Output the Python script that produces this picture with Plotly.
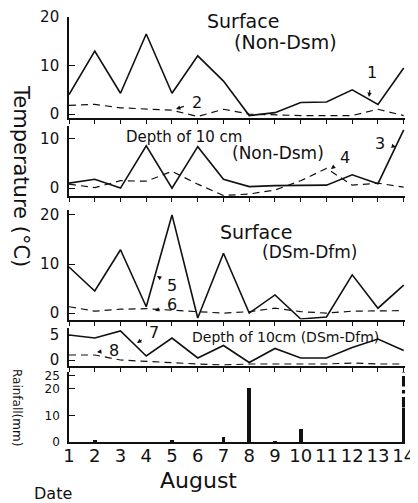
import plotly.graph_objects as go

# ---------------- data ----------------
days = list(range(1, 15))

# Surface, Non-Dsm
surf_non_solid = [4, 13, 4.3, 16.5, 4.3, 12, 6.8, -0.3, 0.3, 2.4, 2.5, 5, 2, 9.5]   # 1
surf_non_dash = [1.8, 2, 1.3, 1, 0.8, -0.5, 1, 0, -0.2, -0.3, -0.3, -0.3, 1, -0.3]  # 2

# Depth of 10 cm, Non-Dsm
d10_non_solid = [1, 1.8, 0, 8.6, 0, 8.4, 1.8, 0.3, 0.5, 0.6, 0.6, 2.7, 0.9, 11.8]  # 3
d10_non_dash = [0.8, 0.1, 1.5, 1.4, 3.4, 0.8, -1.5, -1.2, -0.4, 1.5, 4, 0.6, 1, 0.2]  # 4

# Surface, DSm-Dfm
surf_dsm_solid = [9.4, 4.5, 12.9, 1.3, 20, -1, 12.2, 0, 3.7, -1.2, -0.8, 7.8, 1, 5.7]  # 5
surf_dsm_dash = [1.3, 0.4, 0.8, 0.9, 0.6, 0.3, 0, 0.3, 1, 0.3, 0, 0.4, 0.5, 0.5]      # 6

# Depth of 10 cm, DSm-Dfm
d10_dsm_solid = [5, 4.4, 5.8, 0.8, 4.4, 0.4, 2.9, -0.5, 2.3, 0.4, 0.4, 2.5, 4.2, 1.9]  # 7
d10_dsm_dash = [1, 1, 0, -0.3, -0.5, -0.8, -1, -0.8, -0.8, -0.8, -0.8, -0.6, -0.8, -0.8]  # 8

# Rainfall (mm); day 14 runs off the scale
rain_mm = [0, 0.6, 0, 0, 0.8, 0, 1.8, 20.5, 0.3, 5, 0, 0, 0, 13]
rain_offscale_day = 14

temp_ticks = [[0, 10, 20], [0, 10], [0, 10, 20], [0, 5]]
rain_ticks = [0, 10, 20, 25]

# ---------------- layout helpers ----------------
PAGE_W, PAGE_H = 418, 503
OX, OY = 8, 8                      # default page (body) margin of the html
W, H = PAGE_W - OX, PAGE_H - OY
# plot area in page pixels
P_LEFT, P_RIGHT, P_TOP, P_BOTTOM = 69, 405, 12, 442
ML, MR = P_LEFT - OX, W - (P_RIGHT - OX)
MT, MB = P_TOP - OY, H - (P_BOTTOM - OY)
PW, PH = P_RIGHT - P_LEFT, P_BOTTOM - P_TOP


def px(x):
    return (x - P_LEFT) / PW


def py(y):
    return (P_BOTTOM - y) / PH


FONT = "DejaVu Sans"
INK = "#111111"

panels = [
    dict(dom=(118, 17), rng=[-0.8, 20]),
    dict(dom=(196, 126), rng=[-1.6, 12.6]),
    dict(dom=(319.5, 210), rng=[-1.3, 21]),
    dict(dom=(365.5, 327.5), rng=[-1.1, 6.5]),
    dict(dom=(442, 372), rng=[0, 26.4]),
]

fig = go.Figure()

series = [
    (surf_non_solid, surf_non_dash),
    (d10_non_solid, d10_non_dash),
    (surf_dsm_solid, surf_dsm_dash),
    (d10_dsm_solid, d10_dsm_dash),
]

for k, (solid, dash) in enumerate(series, start=1):
    xa = "x" if k == 1 else f"x{k}"
    ya = "y" if k == 1 else f"y{k}"
    fig.add_trace(go.Scatter(x=days, y=dash, mode="lines", xaxis=xa, yaxis=ya,
                             line=dict(color=INK, width=1.2, dash="7px,5px"),
                             showlegend=False, hoverinfo="skip"))
    fig.add_trace(go.Scatter(x=days, y=solid, mode="lines", xaxis=xa, yaxis=ya,
                             line=dict(color=INK, width=1.6),
                             showlegend=False, hoverinfo="skip"))

# rainfall
fig.add_trace(go.Bar(x=days, y=rain_mm, xaxis="x5", yaxis="y5", width=0.15,
                     marker=dict(color=INK, line=dict(width=0)),
                     showlegend=False, hoverinfo="skip"))
ri = days.index(rain_offscale_day)
fig.add_trace(go.Scatter(x=[days[ri], days[ri]], y=[rain_mm[ri], panels[4]["rng"][1]],
                         mode="lines", xaxis="x5", yaxis="y5",
                         line=dict(color=INK, width=3.5, dash="dashdot"),
                         showlegend=False, hoverinfo="skip"))

layout = dict(
    template="none",
    width=W, height=H, autosize=False,
    margin=dict(l=ML, r=MR, t=MT, b=MB, pad=0, autoexpand=False),
    paper_bgcolor="white", plot_bgcolor="white",
    font=dict(family=FONT, color=INK),
    bargap=0,
)

for k, p in enumerate(panels, start=1):
    xk = "xaxis" if k == 1 else f"xaxis{k}"
    yk = "yaxis" if k == 1 else f"yaxis{k}"
    yref = "y" if k == 1 else f"y{k}"
    xref = "x" if k == 1 else f"x{k}"
    last = k == len(panels)
    layout[xk] = dict(
        domain=[0, 1], anchor=yref, range=[1, 14.05], automargin=False,
        tickmode="array", tickvals=days, ticktext=[str(d) for d in days],
        showticklabels=last, ticks="" if last else "outside", ticklen=4,
        tickcolor=INK, tickwidth=1.2,
        showline=True, linecolor=INK, linewidth=2, showgrid=False, zeroline=False,
        tickfont=dict(size=18, family=FONT, color=INK),
        ticklabelstandoff=-4 if last else 0, ticklabeloverflow="allow",
    )
    tv = rain_ticks if last else temp_ticks[k - 1]
    layout[yk] = dict(
        domain=[py(p["dom"][0]), py(p["dom"][1])], anchor=xref, range=p["rng"],
        automargin=False,
        tickmode="array", tickvals=tv, ticktext=[str(t) for t in tv],
        ticks="inside", ticklen=6, tickcolor=INK, tickwidth=1.2,
        showline=True, linecolor=INK, linewidth=1.6, showgrid=False, zeroline=False,
        tickfont=dict(size=12 if last else 15, family=FONT, color=INK),
        ticklabelstandoff=5, ticklabeloverflow="allow",
    )

fig.update_layout(**layout)

# ---------------- text ----------------
def text(s, x, y, size, angle=0, xanchor="center"):
    fig.add_annotation(text=s, x=px(x), y=py(y), xref="paper", yref="paper",
                       showarrow=False, textangle=angle, xanchor=xanchor,
                       yanchor="middle", font=dict(size=size, family=FONT, color=INK))


def label(s, x, y, tx, ty, size=16):
    # label s drawn at (x,y) with an arrow pointing to (tx,ty) (pixels)
    fig.add_annotation(text=s, x=px(tx), y=py(ty), xref="paper", yref="paper",
                       ax=x - tx, ay=y - ty, axref="pixel", ayref="pixel",
                       showarrow=True, arrowhead=2, arrowsize=0.8, arrowwidth=1.1,
                       arrowcolor=INK, standoff=0, startstandoff=7,
                       font=dict(size=size, family=FONT, color=INK))


text("Surface", 205, 21, 19, xanchor="left")
text("(Non-Dsm)", 232, 42, 19, xanchor="left")
text("Depth of 10 cm", 124, 137, 15, xanchor="left")
text("(Non-Dsm)", 230, 153, 17, xanchor="left")
text("Surface", 218, 232, 19, xanchor="left")
text("(DSm-Dfm)", 260, 252, 17, xanchor="left")
text("Depth of 10cm (DSm-Dfm)", 190, 337, 14, xanchor="left")

text("Temperature (°C)", 21, 176, 21, angle=90)
text("Rainfall(mm)", 17, 407, 12, angle=90)
text("August", 198, 481, 22)
text("Date", 53, 493, 16)

label("1", 372, 72, 369, 97)
label("2", 197, 102, 176, 109)
label("3", 380, 143, 396, 147)
label("4", 345, 158, 331, 169)
label("5", 172, 285, 157, 276)
label("6", 172, 304, 155, 311)
label("7", 154, 332, 137, 343)
label("8", 114, 350, 97, 352)

fig.write_html("out.html")
